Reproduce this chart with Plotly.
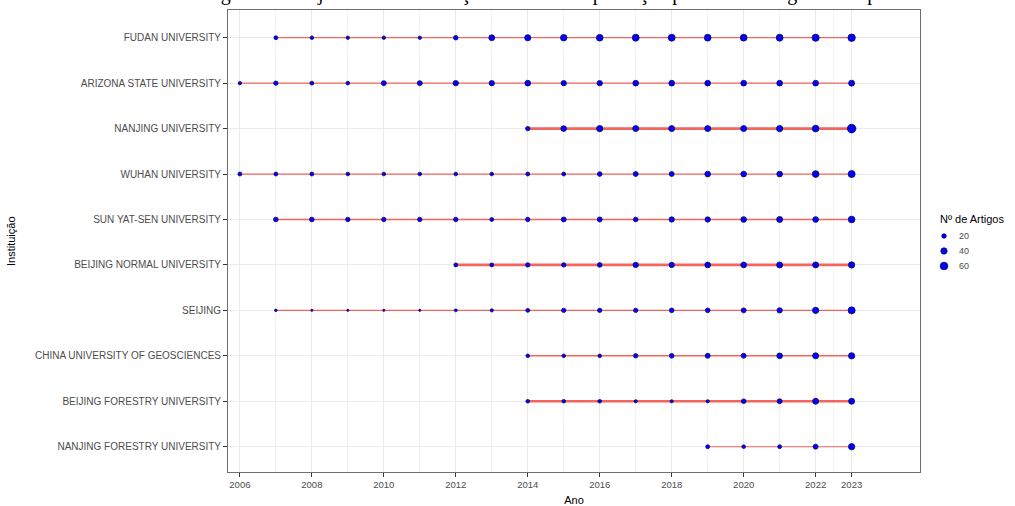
import math
import plotly.graph_objects as go

# ---------------- data ----------------
YEARS = list(range(2006, 2024))

INSTITUTIONS = [
    "FUDAN UNIVERSITY",
    "ARIZONA STATE UNIVERSITY",
    "NANJING UNIVERSITY",
    "WUHAN UNIVERSITY",
    "SUN YAT-SEN UNIVERSITY",
    "BEIJING NORMAL UNIVERSITY",
    "SEIJING",
    "CHINA UNIVERSITY OF GEOSCIENCES",
    "BEIJING FORESTRY UNIVERSITY",
    "NANJING FORESTRY UNIVERSITY",
]

# articles per year (None = no articles that year), aligned with YEARS
fudan = [None, 14, 12, 10, 10, 10, 20, 35, 38, 42, 45, 48, 48, 46, 46, 48, 52, 56]
arizona = [10, 18, 14, 12, 24, 24, 28, 28, 32, 28, 28, 32, 32, 32, 32, 32, 32, 36]
nanjing = [None] * 8 + [18, 32, 40, 36, 36, 36, 36, 40, 45, 75]
wuhan = [14, 14, 14, 12, 12, 12, 12, 12, 14, 14, 21, 24, 24, 32, 32, 32, 45, 50]
sun_yat_sen = [None, 21, 21, 18, 18, 18, 18, 14, 18, 24, 24, 21, 28, 28, 32, 36, 32, 45]
beijing_normal = [None] * 6 + [14, 14, 18, 18, 21, 28, 28, 32, 32, 36, 36, 40]
seijing = [None, 5, 3, 3, 3, 3, 7, 9, 14, 18, 18, 18, 21, 21, 24, 28, 40, 50]
china_geosciences = [None] * 8 + [12, 12, 12, 18, 21, 24, 24, 32, 36, 40]
beijing_forestry = [None] * 8 + [12, 12, 12, 9, 9, 9, 21, 24, 36, 36]
nanjing_forestry = [None] * 13 + [14, 12, 14, 24, 40]

SERIES = [fudan, arizona, nanjing, wuhan, sun_yat_sen, beijing_normal,
          seijing, china_geosciences, beijing_forestry, nanjing_forestry]

LEGEND_VALUES = [20, 40, 60]
X_TICKS = [2006, 2008, 2010, 2012, 2014, 2016, 2018, 2020, 2022, 2023]

# ---------------- styles ----------------
LINE_WIDTHS = {
    "NANJING UNIVERSITY": 2.6,
    "BEIJING NORMAL UNIVERSITY": 2.6,
    "BEIJING FORESTRY UNIVERSITY": 2.6,
    "CHINA UNIVERSITY OF GEOSCIENCES": 1.4,
    "FUDAN UNIVERSITY": 1.3,
    "ARIZONA STATE UNIVERSITY": 1.2,
    "WUHAN UNIVERSITY": 1.2,
    "SUN YAT-SEN UNIVERSITY": 1.3,
    "SEIJING": 1.1,
    "NANJING FORESTRY UNIVERSITY": 1.1,
}
LINE_COLOR = "#F2645E"
POINT_FILL = "#0000FF"
POINT_EDGE = "#0A0A60"
EDGE_W = 0.8
FONT = "Liberation Sans, Arial, sans-serif"


def dot_size(c):
    return math.sqrt(2 + 0.95 * c)


fig = go.Figure()
for name, counts in zip(INSTITUTIONS, SERIES):
    xs = [y for y, c in zip(YEARS, counts) if c is not None]
    cs = [c for c in counts if c is not None]
    fig.add_trace(go.Scatter(
        x=xs, y=[name] * len(xs), mode="lines+markers",
        line=dict(color=LINE_COLOR, width=LINE_WIDTHS[name]),
        marker=dict(size=[dot_size(c) for c in cs], color=POINT_FILL,
                    opacity=1,
                    line=dict(color=POINT_EDGE, width=EDGE_W)),
        showlegend=False, hoverinfo="x+y+text", text=[str(c) for c in cs],
    ))

L, R, T, B = 228, 95, 10, 34
W, H = 1015, 506
pw, ph = W - L - R, H - T - B

# manual size legend
shapes = []
annotations = []
leg_x_px = 944
leg_y_px = [236, 251, 266]
for v, ypx in zip(LEGEND_VALUES, leg_y_px):
    d = dot_size(v)
    xp = (leg_x_px - L) / pw
    yp = (H - B - ypx) / ph
    shapes.append(dict(type="circle", xref="paper", yref="paper",
                       xsizemode="pixel", ysizemode="pixel",
                       xanchor=xp, yanchor=yp,
                       x0=-d / 2, x1=d / 2, y0=-d / 2, y1=d / 2,
                       fillcolor=POINT_FILL,
                       line=dict(color=POINT_EDGE, width=EDGE_W)))
    annotations.append(dict(xref="paper", yref="paper",
                            x=(957 - L) / pw, y=yp, xanchor="left",
                            yanchor="middle", text=str(v), showarrow=False,
                            font=dict(family=FONT, size=9, color="#4D4D4D")))
annotations.append(dict(xref="paper", yref="paper", x=(938 - L) / pw,
                        y=(H - B - 219) / ph, xanchor="left", yanchor="middle",
                        text="Nº de Artigos", showarrow=False,
                        font=dict(family=FONT, size=11, color="#000000")))
# y axis title
annotations.append(dict(xref="paper", yref="paper", x=(11 - L) / pw, y=0.5,
                        xanchor="center", yanchor="middle", textangle=-90,
                        text="Instituição", showarrow=False,
                        font=dict(family=FONT, size=11, color="#000000")))
# cut-off caption at the very top of the image (only descenders visible)
annotations.append(dict(xref="paper", yref="paper", x=(545 - L) / pw, y=1,
                        yanchor="bottom", yshift=3, xanchor="center",
                        text="Figura 8 – Trajetória das instituições com maior produção "
                             "por ano ao longo do tempo",
                        showarrow=False,
                        font=dict(family="Liberation Serif, serif", size=20,
                                  color="#000000")))

fig.update_layout(
    width=W, height=H,
    margin=dict(l=L, r=R, t=T, b=B, pad=0),
    paper_bgcolor="white", plot_bgcolor="white",
    shapes=shapes, annotations=annotations,
    showlegend=False,
    font=dict(family=FONT),
)
fig.update_xaxes(
    range=[2005.67, 2024.9], tickmode="array", tickvals=X_TICKS,
    ticktext=[str(t) for t in X_TICKS],
    tickfont=dict(family=FONT, size=9.5, color="#4D4D4D"),
    ticks="outside", ticklen=4, tickcolor="#333333", tickwidth=1,
    showgrid=True, gridcolor="#EBEBEB", gridwidth=1,
    minor=dict(tickvals=[2007, 2009, 2011, 2013, 2015, 2017, 2019, 2021, 2022.5],
               showgrid=True, gridcolor="#F4F4F4", gridwidth=0.6, ticks=""),
    showline=True, linecolor="#6E6E6E", linewidth=1, mirror=True,
    zeroline=False, automargin=False,
    title=dict(text="Ano", font=dict(family=FONT, size=11, color="#000000"),
               standoff=6),
)
fig.update_yaxes(
    type="category", categoryorder="array",
    categoryarray=list(reversed(INSTITUTIONS)),
    range=[-0.557, 9.61],
    tickfont=dict(family=FONT, size=10, color="#4D4D4D"),
    ticks="outside", ticklen=4, tickcolor="#333333", tickwidth=1,
    showgrid=True, gridcolor="#EBEBEB", gridwidth=1,
    showline=True, linecolor="#6E6E6E", linewidth=1, mirror=True,
    zeroline=False, automargin=False,
)

fig.write_html("out.html",
               config={"displayModeBar": False},
               post_script="document.body.style.margin='0';"
                           "document.body.style.overflow='hidden';")
